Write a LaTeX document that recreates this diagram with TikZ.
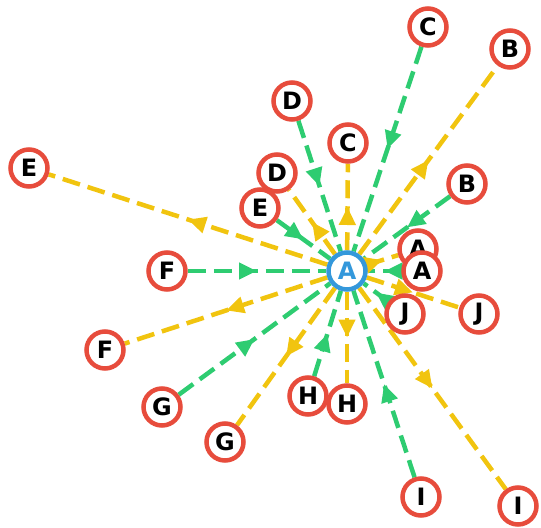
\documentclass[tikz,border=0pt]{standalone}
\usepackage{fontspec}
\setmainfont{DejaVu Sans}
\usetikzlibrary{arrows.meta,decorations.markings}
\definecolor{nred}{HTML}{E74C3C}
\definecolor{nblue}{HTML}{3498DB}
\definecolor{egreen}{HTML}{2ECC71}
\definecolor{eyellow}{HTML}{F1C40F}
\pgfdeclarelayer{bg}
\pgfsetlayers{bg,main}
\begin{document}
\begin{tikzpicture}[x=1bp,y=-1bp,
  vtx/.style={circle,draw=nred,line width=4.5bp,fill=white,minimum size=37bp,inner sep=0pt,font=\fontsize{24}{27}\selectfont\bfseries},
  hub/.style={vtx,draw=nblue,text=nblue},
  link/.style={line width=4.5bp,dash pattern=on 18bp off 8bp,postaction={decorate},
    decoration={markings,mark=at position 0.5 with {\arrow{Triangle[length=18bp,width=16bp]}}}},
  gin/.style={link,egreen},
  yout/.style={link,eyellow}]
\useasboundingbox (0,0) rectangle (541,528);
% nodes
\node[hub] (A0) at (347,271) {A};
\node[vtx] (Ctop) at (428,27) {C};
\node[vtx] (Btop) at (510,49) {B};
\node[vtx] (Dup) at (292,101) {D};
\node[vtx] (C) at (348,143) {C};
\node[vtx] (D) at (277,173) {D};
\node[vtx] (Efar) at (29,168) {E};
\node[vtx] (Br) at (467,184) {B};
\node[vtx] (E) at (260,208) {E};
\node[vtx] (A1) at (418,249) {A};
\node[vtx] (A2) at (422,271) {A};
\node[vtx] (F) at (167,271) {F};
\node[vtx] (J) at (405,314) {J};
\node[vtx] (Jr) at (479,314) {J};
\node[vtx] (Flow) at (105,350) {F};
\node[vtx] (G) at (162,407) {G};
\node[vtx] (H) at (308,396) {H};
\node[vtx] (Hr) at (347,404) {H};
\node[vtx] (Glow) at (225,442) {G};
\node[vtx] (I) at (421,497) {I};
\node[vtx] (Ir) at (518,506) {I};
% edges
\begin{pgfonlayer}{bg}
\foreach \s in {Ctop,Br,Dup,E,F,G,H,I,J,A2} \draw[gin] (\s) -- (A0);
\foreach \t in {Btop,C,D,Efar,Flow,Glow,Hr,Ir,Jr,A1} \draw[yout] (A0) -- (\t);
\end{pgfonlayer}
\end{tikzpicture}
\end{document}
